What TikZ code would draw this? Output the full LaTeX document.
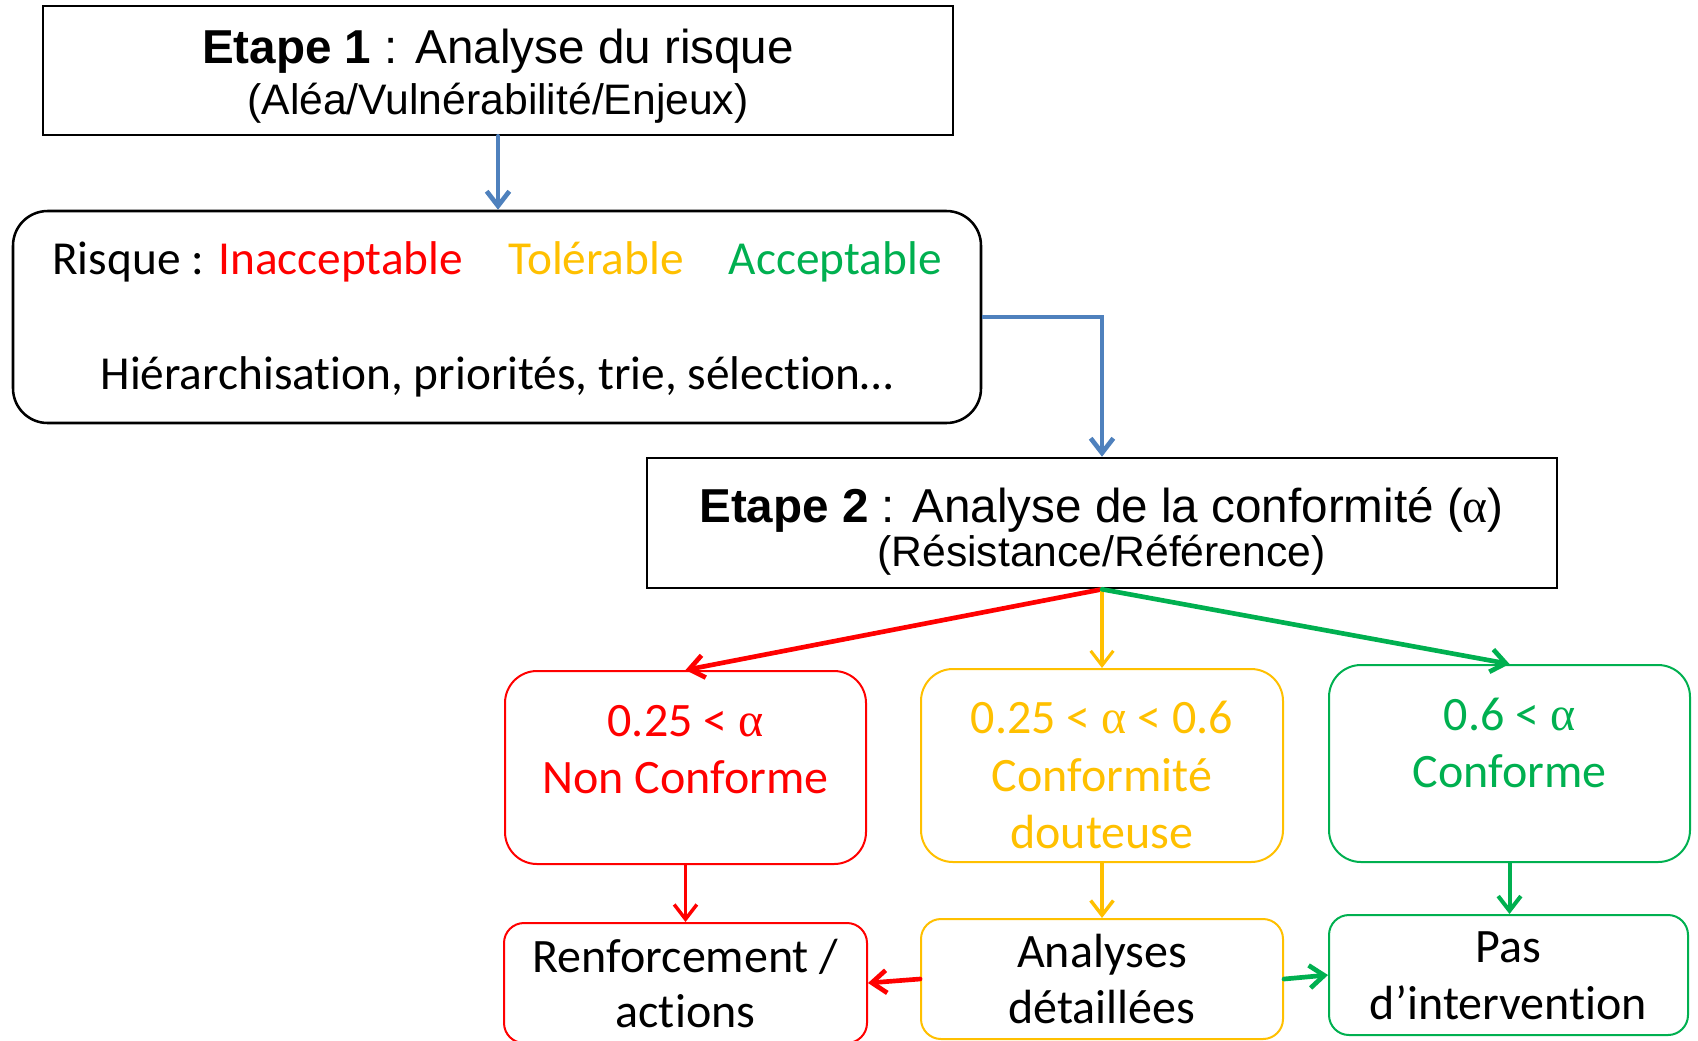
\documentclass[tikz,border=0pt]{standalone}
\usepackage{fontspec}
\setmainfont{Carlito}[Ligatures=NoCommon]
\newfontfamily\arialf{Liberation Sans}
\newfontfamily\timesf{Liberation Serif}
\usetikzlibrary{arrows.meta}
\definecolor{cred}{RGB}{255,0,0}
\definecolor{cyel}{RGB}{255,192,0}
\definecolor{cgrn}{RGB}{0,176,80}
\definecolor{cblu}{RGB}{79,129,189}
\tikzset{
  sqbox/.style={draw=black, line width=1.9pt, inner sep=0pt},
  cbox/.style={line width=1.5pt, inner sep=0pt},
  txt/.style={anchor=base, inner sep=0pt},
  arbig/.style={font=\arialf\fontsize{35.7}{42}\selectfont},
  arsmall/.style={font=\arialf\fontsize{32}{38}\selectfont},
  calmid/.style={font=\fontsize{35.5}{42}\selectfont},
  calbig/.style={font=\fontsize{36}{43}\selectfont},
  conn/.style={-{Straight Barb[length=11pt,width=17pt]}, line cap=round},
}
\begin{document}
\begin{tikzpicture}[x=0.75pt,y=-0.75pt]
\useasboundingbox (0,0) rectangle (1698,1040);
\fill[white] (0,0) rectangle (1698,1040);
\clip (0,0) rectangle (1698,1040);

% boxes
\node[sqbox, minimum width=682.5pt, minimum height=96.75pt] (e1) at (498,70.5) {};
\node[sqbox, rounded corners=26pt, minimum width=726pt, minimum height=159pt] (r1) at (497,317) {};
\node[sqbox, minimum width=682.5pt, minimum height=97.5pt] (e2) at (1102,523) {};
\node[cbox, draw=cred, rounded corners=24pt, minimum width=270.75pt, minimum height=144.75pt] (rA) at (685.5,767.5) {};
\node[cbox, draw=cyel, rounded corners=24pt, minimum width=271.5pt, minimum height=144.75pt] (yA) at (1102,765.5) {};
\node[cbox, draw=cgrn, rounded corners=24pt, minimum width=270.75pt, minimum height=147.75pt] (gA) at (1509.5,763.5) {};
\node[cbox, draw=cred, rounded corners=15pt, minimum width=272.25pt, minimum height=90pt] (rB) at (685.5,983) {};
\node[cbox, draw=cyel, rounded corners=15pt, minimum width=271.5pt, minimum height=90pt] (yB) at (1102,979) {};
\node[cbox, draw=cgrn, rounded corners=15pt, minimum width=269.25pt, minimum height=90pt] (gB) at (1508.5,975) {};

% texts
\node[txt, arbig] (t1a) at (498,63) {\textbf{Etape 1} : Analyse du risque};
\node[txt, arsmall] (t1b) at (498,114) {(Aléa/Vulnérabilité/Enjeux)};
\node[txt, calmid] (t2a) at (497,274) {Risque : \textcolor{cred}{Inacceptable}\hspace{0.95em}\textcolor{cyel}{Tolérable}\hspace{0.95em}\textcolor{cgrn}{Acceptable}};
\node[txt, calmid] (t2b) at (497,389) {Hiérarchisation, priorités, trie, sélection…};
\node[txt, arbig] (t3a) at (1101.5,522) {\textbf{Etape 2} : Analyse de la conformité ({\timesf α})};
\node[txt, arsmall] (t3b) at (1101.5,566) {(Résistance/Référence)};

\node[txt, calbig, text=cred] (ra1) at (685.5,736) {0.25 < {\timesf α}};
\node[txt, calbig, text=cred] (ra2) at (685.5,793) {Non Conforme};
\node[txt, calbig, text=cyel] (ya1) at (1102,733) {0.25 < {\timesf α} < 0.6};
\node[txt, calbig, text=cyel] (ya2) at (1102,791) {Conformité};
\node[txt, calbig, text=cyel] (ya3) at (1102,848) {douteuse};
\node[txt, calbig, text=cgrn] (ga1) at (1509.5,730) {0.6 < {\timesf α}};
\node[txt, calbig, text=cgrn] (ga2) at (1509.5,787) {Conforme};

\node[txt, calbig] (rb1) at (685.5,972) {Renforcement /};
\node[txt, calbig] (rb2) at (685.5,1027) {actions};
\node[txt, calbig] (yb1) at (1102,967) {Analyses};
\node[txt, calbig] (yb2) at (1102,1023) {détaillées};
\node[txt, calbig] (gb1) at (1508.5,962) {Pas};
\node[txt, calbig] (gb2) at (1508.5,1019) {d’intervention};

% connectors
\draw[conn, draw=cblu, line width=3.5pt] (e1.south) -- (e1.south |- r1.north);
\draw[conn, draw=cblu, line width=3.5pt, line cap=butt] (r1.east) -| (e2.north);
\draw[conn, draw=cred, line width=3.5pt] (e2.south) -- (rA.north);
\draw[conn, draw=cyel, line width=2.3pt] (e2.south) -- (yA.north);
\draw[conn, draw=cgrn, line width=3.5pt] (e2.south) -- (gA.north);
\draw[conn, draw=cred, line width=2.6pt] (rA.south) -- (rB.north);
\draw[conn, draw=cyel, line width=2.6pt] (yA.south) -- (yB.north);
\draw[conn, draw=cgrn, line width=3pt] (gA.south) -- (gA.south |- gB.north);
\draw[conn, draw=cred, line width=3.5pt] (yB.west) -- (rB.east);
\draw[conn, draw=cgrn, line width=3.5pt] (yB.east) -- (gB.west);
\end{tikzpicture}
\end{document}
